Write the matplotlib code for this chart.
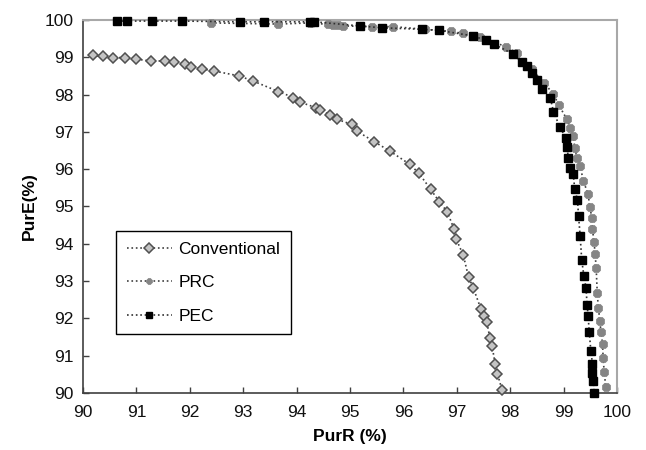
import matplotlib
matplotlib.use("Agg")
import matplotlib.pyplot as plt

plt.rcParams['font.family'] = ['Liberation Sans', 'DejaVu Sans']

conv_x = [90.18, 90.38, 90.56, 90.79, 90.99, 91.27, 91.54, 91.70, 91.91, 92.02, 92.22, 92.46,
          92.92, 93.19, 93.66, 93.94, 94.06, 94.36, 94.44, 94.63, 94.75, 95.03, 95.13, 95.45,
          95.74, 96.12, 96.29, 96.51, 96.67, 96.82, 96.95, 96.99, 97.12, 97.22, 97.31, 97.45,
          97.51, 97.56, 97.62, 97.66, 97.72, 97.76, 97.85]
conv_y = [99.05, 99.02, 98.99, 98.99, 98.95, 98.90, 98.90, 98.86, 98.81, 98.75, 98.69, 98.63,
          98.50, 98.36, 98.08, 97.92, 97.80, 97.65, 97.59, 97.45, 97.34, 97.20, 97.02, 96.74,
          96.49, 96.13, 95.89, 95.46, 95.13, 94.86, 94.39, 94.12, 93.70, 93.11, 92.81, 92.26,
          92.06, 91.91, 91.48, 91.26, 90.77, 90.52, 90.07]

prc_x = [92.39, 93.66, 94.25, 94.59, 94.68, 94.78, 94.87, 95.41, 95.81, 96.40, 96.90, 97.11,
         97.43, 97.93, 98.12, 98.40, 98.63, 98.81, 98.91, 99.06, 99.12, 99.18, 99.21, 99.25,
         99.31, 99.37, 99.46, 99.49, 99.53, 99.54, 99.57, 99.59, 99.61, 99.63, 99.65, 99.68,
         99.70, 99.73, 99.74, 99.76, 99.79]
prc_y = [99.92, 99.89, 99.92, 99.88, 99.87, 99.86, 99.84, 99.82, 99.82, 99.75, 99.69, 99.64,
         99.54, 99.28, 99.11, 98.68, 98.32, 98.01, 97.72, 97.34, 97.11, 96.89, 96.58, 96.31,
         96.09, 95.68, 95.33, 94.99, 94.70, 94.39, 94.06, 93.73, 93.36, 92.69, 92.29, 91.93,
         91.64, 91.31, 90.95, 90.57, 90.16]

pec_x = [90.64, 90.82, 91.29, 91.86, 92.94, 93.39, 94.25, 94.33, 95.18, 95.59, 96.34, 96.67,
         97.31, 97.55, 97.70, 98.06, 98.22, 98.31, 98.40, 98.51, 98.60, 98.75, 98.81, 98.93,
         99.04, 99.06, 99.09, 99.12, 99.18, 99.21, 99.26, 99.28, 99.31, 99.34, 99.38, 99.42,
         99.44, 99.46, 99.48, 99.51, 99.54, 99.54, 99.56, 99.57]
pec_y = [99.97, 99.97, 99.97, 99.97, 99.95, 99.95, 99.95, 99.95, 99.84, 99.79, 99.75, 99.72,
         99.57, 99.45, 99.35, 99.08, 98.86, 98.77, 98.59, 98.39, 98.14, 97.92, 97.54, 97.13,
         96.84, 96.60, 96.31, 96.04, 95.86, 95.46, 95.17, 94.75, 94.21, 93.56, 93.14, 92.82,
         92.36, 92.06, 91.64, 91.13, 90.79, 90.54, 90.32, 90.01]

x_ticks = [90, 91, 92, 93, 94, 95, 96, 97, 98, 99, 100]
y_ticks = [90, 91, 92, 93, 94, 95, 96, 97, 98, 99, 100]

fig = plt.figure(figsize=(6.46, 4.5), dpi=100)
ax = fig.add_axes([0.1285, 0.1267, 0.8266, 0.829])

ax.plot(conv_x, conv_y, linestyle=':', color='#404040', linewidth=1.2,
        marker='D', markersize=5.6, markerfacecolor='#c4c4c4', markeredgecolor='#505050',
        markeredgewidth=1.1, label='Conventional', clip_on=False, zorder=3)
ax.plot(prc_x, prc_y, linestyle=':', color='#404040', linewidth=1.2,
        marker='8', markersize=6.8, markerfacecolor='#858585', markeredgecolor='#858585',
        markeredgewidth=0.5, label='PRC', clip_on=False, zorder=4)
ax.plot(pec_x, pec_y, linestyle=':', color='#303030', linewidth=1.2,
        marker='s', markersize=6.2, markerfacecolor='#000000', markeredgecolor='#000000',
        label='PEC', clip_on=False, zorder=5)

ax.set_xlim(90, 100)
ax.set_ylim(90, 100)
ax.set_xticks(x_ticks)
ax.set_yticks(y_ticks)
ax.tick_params(direction='in', length=4, width=1, color='#404040', labelsize=12.5,
               labelcolor='#111111', pad=7)
ax.tick_params(axis='x', pad=9)

for s in ['left', 'bottom']:
    ax.spines[s].set_color('#404040')
    ax.spines[s].set_linewidth(1.2)
for s in ['top', 'right']:
    ax.spines[s].set_color('#a8a8a8')
    ax.spines[s].set_linewidth(1.5)

ax.set_xlabel('PurR (%)', fontsize=12.5, fontweight='bold', labelpad=6)
ax.set_ylabel('PurE(%)', fontsize=12.5, fontweight='bold', labelpad=5)

leg = ax.legend(loc='upper left', bbox_to_anchor=(0.062, 0.433), fontsize=12.5,
                frameon=True, fancybox=False, edgecolor='#000000', framealpha=1,
                handlelength=2.6, borderpad=0.6, labelspacing=1.05, handletextpad=0.4,
                borderaxespad=0)
leg.get_frame().set_linewidth(1.0)
for h in leg.legend_handles:
    h.set_markersize(5)

fig.savefig('out.png', dpi=100)
